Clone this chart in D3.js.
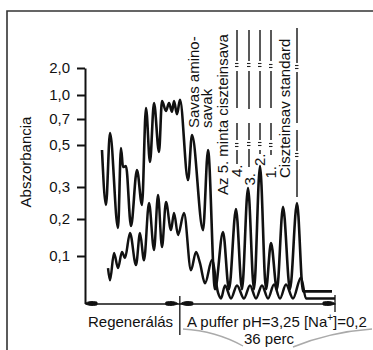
<!DOCTYPE html>
<html>
<head>
<meta charset="utf-8">
<script src="https://cdn.jsdelivr.net/npm/d3@7"></script>
<style>
  html, body { margin: 0; padding: 0; background: #fff; }
  svg { display: block; font-family: "Liberation Sans", Arial, sans-serif; }
</style>
</head>
<body>
<svg id="chart" width="373" height="350"></svg>
<script>
// Elution time (min, counted from the start of regeneration) and absorbance
// of the main detector trace
const upperTime = [3.94, 4.87, 5.80, 7.66, 8.35, 8.82, 9.51, 10.67, 12.06, 13.22,
  14.15, 15.08, 16.01, 17.17, 17.86, 18.79, 19.49, 20.18, 20.65, 21.34, 22.04,
  23.90, 24.82, 27.38, 28.54, 30.16, 32.02, 33.41, 35.03, 36.42, 37.82, 39.21,
  40.60, 41.99, 43.15, 44.54, 45.94, 47.56, 49.18, 50.58, 57.30];
const upperAbs = [0.476, 0.244, 0.592, 0.176, 0.486, 0.395, 0.400, 0.181, 0.381, 0.244,
  0.838, 0.419, 0.900, 0.467, 0.925, 0.800, 0.900, 0.790, 0.925, 0.760, 0.940,
  0.333, 0.577, 0.170, 0.476, 0.030, 0.165, 0.030, 0.231, 0.030, 0.297, 0.030,
  0.400, 0.030, 0.135, 0.030, 0.238, 0.030, 0.250, 0.0255, 0.0255];

// Second detector trace
const lowerTime = [5.34, 5.80, 6.73, 7.66, 8.58, 9.28, 10.44, 11.83, 12.76, 13.69,
  14.85, 16.01, 16.94, 17.86, 18.79, 19.95, 20.65, 21.58, 22.97, 24.59, 25.75,
  26.68, 27.84, 29.46, 30.86, 31.55, 32.48, 33.87, 35.26, 36.89, 38.28, 39.67,
  41.06, 42.46, 43.85, 45.24, 46.63, 48.26, 50.11, 51.27, 58.00];
const lowerAbs = [0.0745, 0.049, 0.108, 0.0745, 0.111, 0.096, 0.162, 0.081, 0.162, 0.091,
  0.250, 0.116, 0.275, 0.124, 0.253, 0.170, 0.219, 0.157, 0.219, 0.070, 0.111,
  0.085, 0.0425, 0.0915, 0.023, 0.0106, 0.038, 0.0106, 0.038, 0.0106, 0.038, 0.0106,
  0.038, 0.0106, 0.040, 0.0106, 0.040, 0.0106, 0.055, 0.0106, 0.0106];

// Absorbance axis (non-uniform, transmittance-like spacing)
const absBreaks = [0, 0.1, 0.2, 0.3, 0.5, 0.7, 1.0, 2.0];
const absTicks = [2.0, 1.0, 0.7, 0.5, 0.3, 0.2, 0.1];
const absTickLabels = ["2,0", "1,0", "0,7", "0,5", "0,3", "0,2", "0,1"];

// Program phases (min)
const phaseBounds = [0, 22, 58];
const phaseNames = ["Regenerálás", "A puffer pH=3,25 [Na+]=0,2"];
const phaseDuration = "36 perc";

// Peak annotations
const peakNames = ["Savas amino-", "savak", "Az 5. minta ciszteinsava",
  "4.", "3.", "2.", "1.", "Ciszteinsav standard"];

const svg = d3.select("#chart");
const ink = "#111";

const x = d3.scaleLinear().domain([phaseBounds[0], phaseBounds[2]]).range([85, 335]);
const y = d3.scaleLinear().domain(absBreaks).range([303.5, 256, 219, 187, 145, 119, 95, 68]);

// frame
svg.append("path")
  .attr("d", "M7,350V11H373")
  .attr("fill", "none").attr("stroke", "#333").attr("stroke-width", 1.6);

// y axis
const yAxis = d3.axisLeft(y)
  .tickValues(absTicks)
  .tickFormat((d, i) => absTickLabels[i])
  .tickSize(8)
  .tickSizeOuter(0)
  .tickPadding(7);
const gy = svg.append("g").attr("transform", "translate(85,0)").call(yAxis);
gy.select(".domain").attr("stroke", ink).attr("stroke-width", 2);
gy.selectAll(".tick line").attr("stroke", ink).attr("stroke-width", 2);
gy.selectAll(".tick text")
  .attr("fill", ink)
  .style("font-size", "15px")
  .style("font-family", "'Liberation Sans', Arial, sans-serif");

svg.append("text")
  .attr("transform", "translate(31,162) rotate(-90)")
  .attr("text-anchor", "middle")
  .attr("fill", ink)
  .style("font-size", "15px")
  .text("Abszorbancia");

// time axis
const xAxis = d3.axisBottom(x).tickValues([]).tickSizeOuter(0);
const gx = svg.append("g").attr("transform", `translate(0,${y(0)})`).call(xAxis);
gx.select(".domain").attr("stroke", ink).attr("stroke-width", 1.6);

// phase arrows and separators
const y0 = y(0);
function arrowHead(tip, dir) {
  const l = 12 * dir;
  return `M${tip},${y0} Q${tip + l * 0.35},${y0 - 3} ${tip + l},${y0 - 1.4} ` +
         `L${tip + l},${y0 + 1.4} Q${tip + l * 0.35},${y0 + 3} ${tip},${y0} Z`;
}
const arrowTips = [
  [x(phaseBounds[0]), 1], [x(phaseBounds[1]) - 2, -1],
  [x(phaseBounds[1]) + 1, 1], [x(phaseBounds[2]), -1]
];
svg.append("g").selectAll("path").data(arrowTips).join("path")
  .attr("d", d => arrowHead(d[0], d[1]))
  .attr("fill", ink).attr("stroke", ink).attr("stroke-width", 1);

svg.append("line")
  .attr("x1", x(phaseBounds[1])).attr("x2", x(phaseBounds[1]))
  .attr("y1", 296).attr("y2", 335)
  .attr("stroke", ink).attr("stroke-width", 1.3);
svg.append("line")
  .attr("x1", x(phaseBounds[2])).attr("x2", x(phaseBounds[2]))
  .attr("y1", 295).attr("y2", 312)
  .attr("stroke", ink).attr("stroke-width", 1.3);

// phase captions
svg.append("text")
  .attr("x", 88).attr("y", 327)
  .attr("fill", ink).style("font-size", "15px")
  .text(phaseNames[0]);

const buf = svg.append("text")
  .attr("x", 187).attr("y", 327)
  .attr("fill", ink).style("font-size", "15px");
const [bufHead, bufTail] = phaseNames[1].split("+");
buf.append("tspan").text(bufHead);
buf.append("tspan").attr("dy", -6).style("font-size", "10px").text("+");
buf.append("tspan").attr("dy", 6).text(bufTail);

svg.append("text")
  .attr("x", 269).attr("y", 344)
  .attr("text-anchor", "middle")
  .attr("fill", ink).style("font-size", "15px")
  .text(phaseDuration);

// brace under the buffer caption
svg.append("path")
  .attr("d", "M183,329 Q216,331 243,346 M372,329 Q330,332 293,347")
  .attr("fill", "none").attr("stroke", "#aaa").attr("stroke-width", 1.4);

// traces
const line = d3.line()
  .x(d => x(d[0]))
  .y(d => y(d[1]))
  .curve(d3.curveMonotoneX);

svg.append("path")
  .datum(lowerTime.map((t, i) => [t, lowerAbs[i]]))
  .attr("d", line)
  .attr("fill", "none").attr("stroke", ink)
  .attr("stroke-width", 2.5).attr("stroke-linejoin", "round");

svg.append("path")
  .datum(upperTime.map((t, i) => [t, upperAbs[i]]))
  .attr("d", line)
  .attr("fill", "none").attr("stroke", ink)
  .attr("stroke-width", 2.6).attr("stroke-linejoin", "round");

// vertical peak annotations (baseline x, start y)
const annoPos = [[199, 128], [211.5, 128], [227.5, 195], [241.5, 177],
  [254.5, 185.5], [264.5, 166], [276, 178.5], [290, 178]];
svg.append("g").selectAll("text").data(peakNames).join("text")
  .attr("transform", (d, i) => `translate(${annoPos[i][0]},${annoPos[i][1]}) rotate(-90)`)
  .attr("fill", ink)
  .style("font-size", "15px")
  .text(d => d);

// ditto columns for samples 4.-1. and the second standard line
const dittoCols = [
  { x: 237, segs: [[30, 61], [71, 108], [123, 140], [150, 164]], marks: [65, 145] },
  { x: 249, segs: [[30, 61], [71, 109], [123, 140], [149, 167]], marks: [65, 144] },
  { x: 260, segs: [[30, 61], [71, 108], [123, 140], [150, 154]], marks: [65, 144] },
  { x: 271, segs: [[30, 61], [71, 108], [123, 140], [150, 155]], marks: [66, 145] },
  { x: 297, segs: [[28, 63], [72, 123], [130, 151], [160, 197]], marks: [67, 155] }
];
const dg = svg.append("g").attr("stroke", "#222").attr("stroke-width", 1.5);
dittoCols.forEach(c => {
  c.segs.forEach(s => {
    dg.append("line").attr("x1", c.x).attr("x2", c.x).attr("y1", s[0]).attr("y2", s[1]);
  });
  c.marks.forEach(m => {
    [-1.5, 1.5].forEach(o => {
      dg.append("line")
        .attr("x1", c.x - 2).attr("x2", c.x + 1.5)
        .attr("y1", m + o).attr("y2", m + o)
        .attr("stroke-width", 1.1);
    });
  });
});
</script>
</body>
</html>
